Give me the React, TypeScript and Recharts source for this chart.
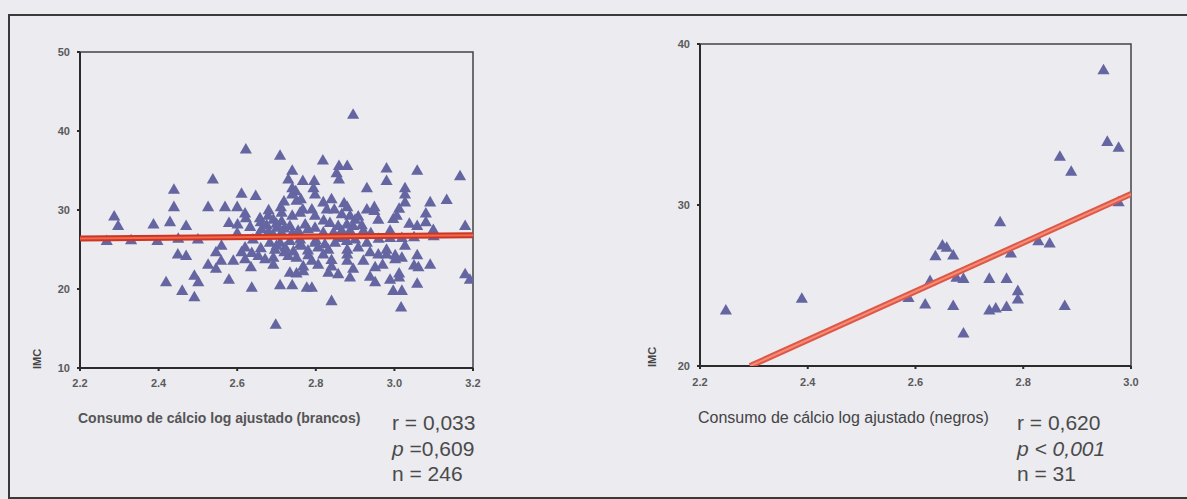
import React from 'react';
import { ScatterChart, Scatter, XAxis, YAxis, ZAxis, ReferenceArea } from 'recharts';

// IMC vs consumo de cálcio (log ajustado) – brancos
const brancosX = [
  2.538, 2.439, 2.439, 2.526, 2.287, 2.297, 2.387, 2.429, 2.470, 2.268, 2.397, 2.449, 2.470, 2.546, 2.526, 2.546,
  2.491, 2.501, 2.419, 2.460, 2.491, 2.622, 2.709, 2.818, 2.859, 2.740, 2.730, 2.767, 2.796, 2.853, 2.859, 2.740,
  2.749, 2.794, 2.798, 2.611, 2.647, 2.740, 2.719, 2.751, 2.762, 2.819, 2.840, 2.569, 2.600, 2.711, 2.767, 2.790,
  2.828, 2.847, 2.620, 2.622, 2.713, 2.740, 2.798, 2.866, 2.579, 2.601, 2.633, 2.658, 2.679, 2.692, 2.713, 2.675,
  2.701, 2.734, 2.773, 2.836, 2.857, 2.662, 2.654, 2.692, 2.713, 2.755, 2.798, 2.819, 2.845, 2.866, 2.683, 2.709,
  2.734, 2.760, 2.798, 2.823, 2.849, 2.696, 2.722, 2.743, 2.764, 2.806, 2.832, 2.611, 2.637, 2.654, 2.671, 2.692,
  2.730, 2.751, 2.781, 2.819, 2.559, 2.590, 2.620, 2.692, 2.768, 2.790, 2.806, 2.840, 2.635, 2.734, 2.751, 2.768,
  2.832, 2.857, 2.579, 2.637, 2.709, 2.740, 2.777, 2.790, 2.840, 2.698, 2.880, 2.980, 3.058, 3.167, 2.980, 2.930,
  3.027, 3.027, 3.091, 3.133, 2.872, 2.880, 2.930, 2.949, 2.949, 3.012, 3.027, 3.080, 2.887, 2.900, 2.908, 2.959,
  2.997, 3.006, 3.038, 3.058, 3.080, 3.180, 2.879, 2.895, 2.917, 2.887, 2.921, 2.989, 3.099, 2.879, 2.930, 2.989,
  3.019, 3.027, 2.908, 2.938, 2.959, 2.980, 2.980, 3.002, 3.019, 3.058, 2.880, 2.880, 2.921, 2.951, 2.970, 3.002,
  3.050, 3.061, 3.091, 2.895, 2.887, 2.938, 2.951, 2.989, 3.012, 3.012, 3.058, 2.997, 3.019, 3.017, 3.180, 3.192,
  2.895, 2.66, 2.70, 2.72, 2.68, 2.74, 2.78, 2.76, 2.70, 2.72, 2.66, 2.64, 2.78, 2.80, 2.62, 2.82, 2.86, 2.90, 2.94,
  2.76, 2.68, 2.60, 2.56, 2.50, 2.33, 2.45, 2.88, 3.05, 3.10, 2.96, 2.84,
];
const brancosY = [
  33.8, 32.5, 30.3, 30.3, 29.1, 27.9, 28.1, 28.4, 27.9, 26.0, 26.0, 24.3, 24.1, 24.6, 23.0, 22.5,
  21.6, 20.8, 20.8, 19.7, 18.9, 37.6, 36.8, 36.2, 35.5, 34.9, 33.8, 33.6, 33.6, 34.6, 33.8, 32.7,
  32.3, 32.7, 31.9, 32.0, 31.7, 31.9, 31.0, 31.1, 31.3, 30.9, 31.3, 30.3, 30.3, 30.3, 30.0, 30.0,
  30.0, 30.0, 29.5, 28.9, 29.6, 29.2, 29.2, 29.4, 28.3, 28.1, 27.8, 28.9, 29.2, 28.7, 28.5, 28.0,
  27.7, 27.9, 28.1, 28.3, 27.9, 27.5, 26.8, 26.8, 27.1, 27.3, 27.7, 27.1, 27.1, 27.3, 25.8, 25.8,
  26.0, 25.6, 25.8, 25.6, 25.8, 24.9, 25.2, 24.7, 25.4, 25.2, 24.9, 24.6, 24.5, 24.1, 23.7, 23.9,
  24.1, 23.9, 24.2, 24.3, 23.5, 23.5, 23.7, 23.0, 22.8, 23.5, 23.0, 22.8, 22.7, 22.0, 21.9, 22.2,
  22.0, 21.8, 21.1, 20.1, 20.4, 20.4, 20.1, 20.1, 18.4, 15.4, 35.5, 35.2, 34.9, 34.2, 33.6, 32.7,
  32.7, 31.9, 30.9, 31.2, 30.8, 30.3, 30.0, 30.3, 29.8, 30.1, 30.9, 29.5, 29.2, 28.7, 29.1, 28.7,
  28.8, 29.2, 28.2, 27.9, 28.4, 27.9, 28.1, 27.9, 28.0, 27.3, 27.3, 27.3, 27.4, 26.0, 25.8, 26.4,
  26.4, 25.4, 25.2, 24.6, 24.3, 24.9, 24.3, 24.2, 23.9, 24.2, 24.3, 23.5, 23.5, 22.7, 23.0, 23.7,
  22.9, 22.7, 23.0, 22.5, 21.4, 21.5, 20.8, 21.1, 21.9, 21.4, 20.6, 19.7, 19.7, 17.6, 21.8, 21.1,
  42.0, 28.4, 28.2, 27.6, 27.2, 27.0, 27.5, 26.2, 25.4, 24.6, 25.1, 26.2, 24.8, 26.1, 25.2, 28.6, 26.4, 26.2, 27.0,
  29.6, 29.9, 27.0, 25.4, 26.2, 26.1, 26.3, 24.9, 26.5, 26.6, 26.3, 23.6,
];
const brancosFitX = [2.2, 3.2];
const brancosFitY = [26.4, 26.8];

// IMC vs consumo de cálcio (log ajustado) – negros
const negrosX = [
  2.248, 2.389, 2.587, 2.618, 2.637, 2.650, 2.658, 2.670, 2.670, 2.676, 2.689, 2.689, 2.737, 2.737, 2.749, 2.757,
  2.769, 2.769, 2.777, 2.790, 2.790, 2.828, 2.849, 2.877, 2.949, 2.956, 2.977, 2.868, 2.889, 2.977, 2.627,
];
const negrosY = [
  23.42, 24.14, 24.2, 23.79, 26.79, 27.45, 27.31, 26.83, 23.69, 25.45, 25.38, 21.99, 25.38, 23.42, 23.54, 28.9,
  25.38, 23.64, 26.96, 24.62, 24.1, 27.72, 27.58, 23.69, 38.34, 33.89, 33.52, 32.96, 32.03, 30.14, 25.24,
];
const negrosFitX = [2.293, 3.0];
const negrosFitY = [20, 30.68];

const brancosXTicks = [2.2, 2.4, 2.6, 2.8, 3.0, 3.2];
const brancosYTicks = [10, 20, 30, 40, 50];
const negrosXTicks = [2.2, 2.4, 2.6, 2.8, 3.0];
const negrosYTicks = [20, 30, 40];

const toPoints = (xs: number[], ys: number[]) => xs.map((x, i) => ({ x, y: ys[i] }));
const noDot = () => <g />;

const axisStroke = { stroke: '#2b2b2b', strokeWidth: 2 };
const tickStyle = { fill: '#5a5a5a', fontSize: 11, fontWeight: 700 };

type PanelProps = {
  left: number;
  width: number;
  margin: { top: number; right: number; bottom: number; left: number };
  xDomain: [number, number];
  yDomain: [number, number];
  xTicks: number[];
  yTicks: number[];
  points: { x: number; y: number }[];
  fit: { x: number; y: number }[];
  fitOuter: string;
  fitInner: string;
  xTickMargin: number;
};

const Panel = ({ left, width, margin, xDomain, yDomain, xTicks, yTicks, points, fit, fitOuter, fitInner, xTickMargin }: PanelProps) => (
  <div style={{ position: 'absolute', left, top: 0 }}>
    <ScatterChart width={width} height={400} margin={margin}>
      <XAxis
        type="number"
        dataKey="x"
        domain={xDomain}
        ticks={xTicks}
        allowDataOverflow
        tickFormatter={(v: number) => v.toFixed(1)}
        height={20}
        tickSize={3}
        tickMargin={xTickMargin}
        axisLine={axisStroke}
        tickLine={axisStroke}
        tick={tickStyle}
      />
      <YAxis
        type="number"
        dataKey="y"
        domain={yDomain}
        ticks={yTicks}
        allowDataOverflow
        width={40}
        tickSize={3}
        tickMargin={7}
        axisLine={axisStroke}
        tickLine={axisStroke}
        tick={tickStyle}
      />
      <ZAxis range={[28, 28]} />
      <ReferenceArea x1={xDomain[0]} x2={xDomain[1]} y1={yDomain[0]} y2={yDomain[1]} fill="none" stroke="#444" strokeWidth={1.5} />
      <Scatter data={points} fill="#6565a2" shape="triangle" isAnimationActive={false} />
      <Scatter data={fit} line={{ stroke: fitOuter, strokeWidth: 6 }} shape={noDot} isAnimationActive={false} />
      <Scatter data={fit} line={{ stroke: fitInner, strokeWidth: 2 }} shape={noDot} isAnimationActive={false} />
    </ScatterChart>
  </div>
);

const abs = (left: number, top: number): React.CSSProperties => ({ position: 'absolute', left, top, whiteSpace: 'nowrap' });

export default function App() {
  return (
    <div
      style={{
        position: 'absolute',
        left: 0,
        top: 0,
        width: 1187,
        height: 499,
        overflow: 'hidden',
        background: '#ebebf0',
        fontFamily: "'Liberation Sans', Arial, sans-serif",
      }}
    >
      <div
        style={{
          position: 'absolute',
          left: 8,
          top: 14,
          width: 1300,
          height: 481,
          borderTop: '2px solid #3a3a3a',
          borderLeft: '2px solid #3a3a3a',
          borderBottom: '2px solid #3a3a3a',
        }}
      />

      <Panel
        left={0}
        width={500}
        margin={{ top: 52, right: 27, bottom: 12, left: 40 }}
        xDomain={[2.2, 3.2]}
        yDomain={[10, 50]}
        xTicks={brancosXTicks}
        yTicks={brancosYTicks}
        points={toPoints(brancosX, brancosY)}
        fit={toPoints(brancosFitX, brancosFitY)}
        fitOuter="#cc3524"
        fitInner="#f26a4c"
        xTickMargin={8}
      />
      <Panel
        left={600}
        width={560}
        margin={{ top: 44, right: 29, bottom: 14, left: 60 }}
        xDomain={[2.2, 3.0]}
        yDomain={[20, 40]}
        xTicks={negrosXTicks}
        yTicks={negrosYTicks}
        points={toPoints(negrosX, negrosY)}
        fit={toPoints(negrosFitX, negrosFitY)}
        fitOuter="#de5846"
        fitInner="#f58c78"
        xTickMargin={9}
      />

      <div style={{ ...abs(37, 359), transform: 'translate(-50%, -50%) rotate(-90deg)', fontSize: 11, fontWeight: 700, color: '#444' }}>IMC</div>
      <div style={{ ...abs(652, 357), transform: 'translate(-50%, -50%) rotate(-90deg)', fontSize: 11, fontWeight: 700, color: '#444' }}>IMC</div>

      <div style={{ ...abs(78, 410), fontSize: 14, lineHeight: '16px', fontWeight: 700, color: '#555' }}>
        Consumo de cálcio log ajustado (brancos)
      </div>
      <div style={{ ...abs(698, 409), fontSize: 16, lineHeight: '18px', color: '#444' }}>
        Consumo de cálcio log ajustado (negros)
      </div>

      <div style={{ ...abs(392, 410), fontSize: 21, lineHeight: '25.5px', color: '#4a4a4a' }}>
        <div>r = 0,033</div>
        <div><i>p</i> =0,609</div>
        <div>n = 246</div>
      </div>
      <div style={{ ...abs(1017, 410), fontSize: 21, lineHeight: '25.5px', color: '#4a4a4a' }}>
        <div>r = 0,620</div>
        <div style={{ fontStyle: 'italic' }}>p &lt; 0,001</div>
        <div>n = 31</div>
      </div>
    </div>
  );
}
